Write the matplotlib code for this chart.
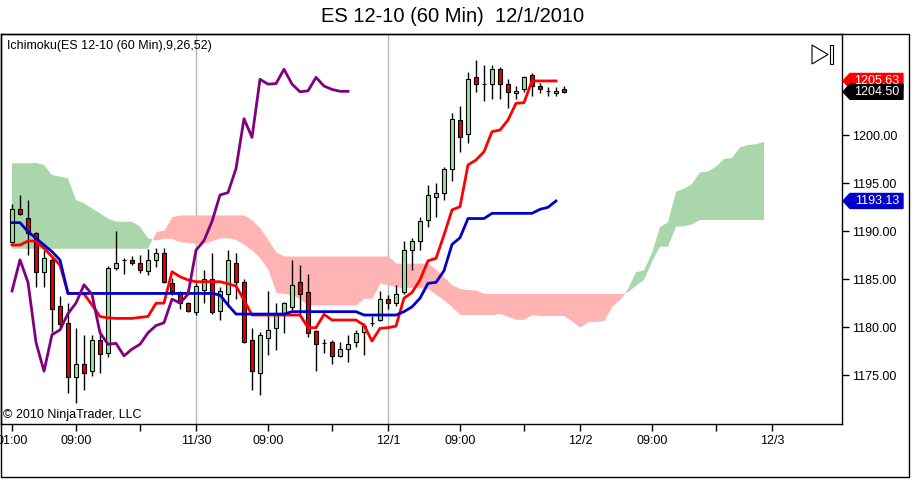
import numpy as np
import matplotlib
matplotlib.use("Agg")
import matplotlib.pyplot as plt
from matplotlib.patches import Polygon, Rectangle
from matplotlib.transforms import blended_transform_factory

plt.rcParams['font.family'] = ['Liberation Sans', 'DejaVu Sans']

# hourly bars, index = hours since 11/29 00:00
bars = np.arange(1, 71)
opens = [1188.9, 1192.3, 1191.4, 1189.8, 1185.7, 1187.0, 1182.2, 1180.4, 1174.8, 1176.1,
         1175.4, 1178.6, 1177.3, 1186.2, 1186.95, 1187.0, 1186.7, 1185.8, 1187.0, 1187.7,
         1184.6, 1183.4, 1182.5, 1181.6, 1183.9, 1185.0, 1181.7, 1183.4, 1186.7, 1184.65,
         1178.65, 1175.2, 1178.9, 1179.9, 1181.4, 1182.1, 1184.65, 1183.7, 1179.6, 1178.3,
         1178.4, 1177.0, 1177.7, 1178.4, 1179.45, 1180.45, 1180.7, 1182.9, 1182.5, 1183.7,
         1188.0, 1189.0, 1191.15, 1193.5, 1194.0, 1196.5, 1201.55, 1200.1, 1206.0, 1205.3,
         1205.3, 1206.85, 1205.3, 1204.35, 1204.75, 1206.25, 1205.1, 1204.55, 1204.35, 1204.75]
highs = [1192.8, 1193.75, 1193.2, 1189.9, 1188.0, 1187.4, 1183.2, 1182.5, 1179.9, 1179.2,
         1179.2, 1179.7, 1186.4, 1190.0, 1187.2, 1187.4, 1187.5, 1188.1, 1188.2, 1188.2,
         1185.1, 1183.75, 1182.6, 1184.6, 1185.9, 1187.7, 1184.2, 1188.0, 1187.7, 1185.0,
         1179.9, 1179.5, 1183.75, 1182.55, 1182.6, 1187.0, 1186.5, 1185.5, 1179.7, 1178.75,
         1178.6, 1178.4, 1179.2, 1179.7, 1180.4, 1181.15, 1183.75, 1183.3, 1184.4, 1189.0,
         1189.25, 1191.5, 1194.8, 1195.0, 1196.7, 1202.3, 1203.0, 1206.6, 1207.8, 1207.3,
         1207.3, 1207.1, 1205.8, 1205.1, 1206.1, 1206.5, 1205.4, 1205.05, 1205.0, 1205.1]
lows = [1188.5, 1191.7, 1187.5, 1184.2, 1184.2, 1179.5, 1180.0, 1173.1, 1172.1, 1173.4,
        1174.9, 1175.2, 1176.9, 1185.9, 1185.5, 1186.5, 1185.6, 1185.4, 1186.3, 1184.6,
        1183.3, 1181.9, 1181.6, 1181.25, 1182.5, 1181.4, 1180.7, 1182.1, 1182.9, 1178.3,
        1173.4, 1172.9, 1177.1, 1177.6, 1179.4, 1181.8, 1181.25, 1179.0, 1175.4, 1177.3,
        1176.15, 1176.9, 1176.4, 1177.9, 1177.1, 1180.1, 1180.6, 1181.9, 1182.2, 1183.4,
        1185.9, 1188.0, 1190.45, 1191.5, 1193.2, 1195.2, 1198.25, 1199.2, 1204.5, 1203.5,
        1203.8, 1203.8, 1202.8, 1203.8, 1204.5, 1204.05, 1204.35, 1204.1, 1204.1, 1204.35]
closes = [1192.3, 1191.8, 1189.8, 1185.7, 1187.2, 1181.9, 1180.3, 1174.8, 1176.1, 1175.2,
          1178.6, 1177.2, 1186.2, 1186.7, 1187.0, 1186.7, 1185.9, 1187.0, 1187.7, 1184.7,
          1183.75, 1182.5, 1181.7, 1184.3, 1185.0, 1181.6, 1183.75, 1187.0, 1184.65, 1178.4,
          1175.4, 1179.2, 1179.7, 1181.4, 1182.5, 1184.4, 1183.4, 1179.4, 1178.2, 1178.3,
          1177.0, 1177.7, 1178.2, 1179.4, 1180.15, 1180.45, 1182.9, 1182.5, 1183.4, 1188.0,
          1189.0, 1191.0, 1193.75, 1194.0, 1196.5, 1201.7, 1199.75, 1205.8, 1205.3, 1205.35,
          1206.85, 1205.3, 1204.5, 1204.6, 1206.0, 1205.1, 1204.75, 1204.55, 1204.55, 1204.5]

# Ichimoku lines
line_x = np.arange(1, 70)
tenkan = [1188.54, 1188.54, 1188.96, 1188.96, 1188.2, 1187.33, 1186.46, 1183.5, 1183.5, 1183.45,
          1182.3, 1181.1, 1180.95, 1180.9, 1180.9, 1180.9, 1181.0, 1181.1, 1182.47, 1182.5,
          1185.76, 1185.24, 1184.9, 1184.72, 1184.72, 1184.72, 1184.72, 1184.5, 1184.27, 1182.8,
          1181.25, 1181.25, 1181.25, 1181.25, 1181.25, 1181.25, 1181.25, 1179.93, 1179.93, 1181.32,
          1180.73, 1180.73, 1180.73, 1180.73, 1180.2, 1178.54, 1179.86, 1179.93, 1180.1, 1183.0,
          1183.6, 1184.9, 1186.9, 1187.15, 1189.58, 1192.2, 1192.53, 1196.88, 1197.4, 1198.26,
          1200.35, 1200.52, 1201.56, 1203.3, 1203.37, 1205.63, 1205.63, 1205.63, 1205.63]
kijun = [1190.87, 1190.87, 1189.93, 1189.24, 1188.54, 1187.85, 1186.98, 1183.5, 1183.5, 1183.5,
         1183.5, 1183.5, 1183.5, 1183.5, 1183.5, 1183.5, 1183.5, 1183.5, 1183.5, 1183.5,
         1183.5, 1183.5, 1183.5, 1183.5, 1183.5, 1183.5, 1183.33, 1182.3, 1181.35, 1181.35,
         1181.35, 1181.35, 1181.35, 1181.35, 1181.35, 1181.6, 1181.6, 1181.6, 1181.6, 1181.6,
         1181.6, 1181.6, 1181.6, 1181.6, 1181.25, 1181.25, 1181.25, 1181.25, 1181.25, 1181.6,
         1182.1, 1183.0, 1184.55, 1184.65, 1185.87, 1188.6, 1189.3, 1191.3, 1191.3, 1191.3,
         1191.84, 1191.84, 1191.84, 1191.84, 1191.84, 1191.84, 1192.26, 1192.47, 1193.13]

chikou_x = np.arange(1, 44)
chikou = [1183.75, 1187.0, 1184.65, 1178.4, 1175.4, 1179.2, 1179.7, 1181.4, 1182.5, 1184.4,
          1183.4, 1179.4, 1178.2, 1178.3, 1177.0, 1177.7, 1178.2, 1179.4, 1180.15, 1180.45,
          1182.9, 1182.5, 1183.4, 1188.0, 1189.0, 1191.0, 1193.75, 1194.0, 1196.5, 1201.7,
          1199.75, 1205.8, 1205.3, 1205.35, 1206.85, 1205.3, 1204.5, 1204.6, 1206.0, 1205.1,
          1204.75, 1204.55, 1204.55]

cloud_x = np.arange(1, 96)
span_a = [1197.05, 1197.05, 1197.05, 1197.1, 1196.88, 1195.83, 1195.66, 1195.49, 1193.23, 1192.88,
          1192.36, 1191.84, 1191.3, 1190.97, 1190.97, 1190.97, 1190.45, 1189.24,
          1189.06, 1189.24, 1189.2, 1188.89, 1188.8, 1188.72, 1188.72, 1189.0, 1189.3, 1189.3,
          1189.1, 1188.6, 1188.0, 1187.2, 1186.0, 1183.6,
          1183.5, 1183.4, 1182.9, 1182.3, 1182.3, 1182.3, 1182.3, 1182.3, 1182.3, 1182.3,
          1183.0, 1183.0, 1184.6, 1184.4, 1184.2, 1184.1, 1184.1, 1184.1, 1184.0, 1183.4,
          1182.8, 1182.1, 1181.3, 1181.3, 1181.3,
          1181.3, 1181.3, 1181.4, 1181.1, 1180.8, 1180.8, 1181.3, 1181.2, 1181.2, 1181.2,
          1181.2, 1180.6, 1180.0, 1180.55, 1180.6, 1180.7, 1182.2, 1182.9,
          1183.95, 1185.7, 1185.9, 1187.7, 1190.4, 1190.9, 1194.1, 1194.4, 1194.9, 1196.1,
          1196.2, 1196.7, 1197.5, 1197.6, 1198.7, 1198.95, 1199.05, 1199.3]
span_b = ([1188.15] * 18
          + [1189.93, 1190.1, 1191.5, 1191.67, 1191.67, 1191.67, 1191.67, 1191.67, 1191.67,
             1191.67, 1191.67, 1191.67, 1191.15, 1190.3, 1189.1, 1187.8]
          + [1187.4] * 14 + [1186.65] * 5
          + [1186.0, 1185.2, 1184.4, 1184.0, 1183.9, 1183.85]
          + [1183.5] * 18
          + [1183.6, 1184.3, 1184.9, 1186.8, 1188.37, 1188.37, 1190.45, 1190.5, 1190.7]
          + [1191.15] * 9)

tick_pos = [1, 9, 17, 24, 33, 41, 48, 57, 65, 72, 81, 89, 96]
tick_labels = ['01:00', '09:00', '', '11/30', '09:00', '', '12/1', '09:00', '', '12/2',
               '09:00', '', '12/3']
price_ticks = [1175, 1180, 1185, 1190, 1195, 1200]
day_breaks = [24, 48]

W, H = 913, 480
fig = plt.figure(figsize=(W / 100, H / 100), dpi=100)


def fpos(x, y):
    return x / W, 1 - y / H


ax = fig.add_axes([1 / W, 56 / H, 841 / W, 390 / H])
ax.set_xlim(-0.375, 104.75)
ax.set_ylim(1169.9, 1210.52)

a = np.array(span_a)
b = np.array(span_b)
ax.fill_between(cloud_x, a, b, where=a >= b, interpolate=True,
                color='#A9D6AA', lw=0, zorder=1)
ax.fill_between(cloud_x, a, b, where=a <= b, interpolate=True,
                color='#FFB3B3', lw=0, zorder=1)

for d in day_breaks:
    ax.axvline(d, color='#B4B4B4', lw=1, zorder=0.5)

o = np.array(opens)
c = np.array(closes)
body_col = np.where(c >= o, '#98E098', '#E00000')
ax.vlines(bars, lows, highs, color='black', lw=1, zorder=3)
ax.bar(bars, c - o, bottom=o, width=0.62, color=body_col,
       edgecolor='black', linewidth=0.8, zorder=4)

ax.plot(line_x, tenkan, color='#FF0000', lw=2, zorder=5)
ax.plot(line_x, kijun, color='#0000C8', lw=2, zorder=5)
ax.plot(chikou_x, chikou, color='#800080', lw=2, zorder=5)

ax.set_xticks(tick_pos)
ax.set_xticklabels(tick_labels)
ax.yaxis.tick_right()
ax.set_yticks(price_ticks)
ax.set_yticklabels(['%.2f' % v for v in price_ticks])
ax.tick_params(axis='both', direction='out', length=5, width=1, labelsize=9, pad=2,
               colors='black')
ax.tick_params(axis='x', pad=3)
for s in ax.spines.values():
    s.set_linewidth(1)
    s.set_color('black')

# price flags on the right axis
bt = blended_transform_factory(ax.transAxes, ax.transData)
half = 0.78
for val, col, txt in [(1205.63, '#FF0000', '1205.63'), (1204.5, '#000000', '1204.50'),
                      (1193.13, '#0000C8', '1193.13')]:
    x0 = 1 + 1 / 841
    x1 = 1 + 8 / 841
    x2 = 1 + 61 / 841
    poly = Polygon([(x0, val), (x1, val + half), (x2, val + half), (x2, val - half),
                    (x1, val - half)], closed=True, transform=bt, facecolor=col,
                   edgecolor=col, clip_on=False, zorder=10)
    ax.add_patch(poly)
    ax.text(1 + 35 / 841, val, txt, transform=bt, ha='center', va='center',
            color='white', fontsize=9, clip_on=False, zorder=11)

# texts
fig.text(*fpos(453, 17), 'ES 12-10 (60 Min)  12/1/2010', ha='center', va='center',
         fontsize=14.5)
fig.text(*fpos(7, 46), 'Ichimoku(ES 12-10 (60 Min),9,26,52)', ha='left', va='center',
         fontsize=9)
fig.text(*fpos(3, 415), '\u00a9 2010 NinjaTrader, LLC', ha='left', va='center',
         fontsize=9)

# outer panel frame
fig.add_artist(Rectangle(fpos(0.5, 477), 908.5 / W, 443 / H, transform=fig.transFigure,
                         fill=False, edgecolor='black', lw=1))

# "play to end" icon
fig.add_artist(Polygon([fpos(812, 45), fpos(828, 54.5), fpos(812, 64)], closed=True,
                       transform=fig.transFigure, facecolor='white', edgecolor='black',
                       lw=0.8))
fig.add_artist(Rectangle(fpos(829.5, 64), 3 / W, 19 / H, transform=fig.transFigure,
                         facecolor='white', edgecolor='black', lw=0.8))

fig.savefig('out.png', dpi=100)
